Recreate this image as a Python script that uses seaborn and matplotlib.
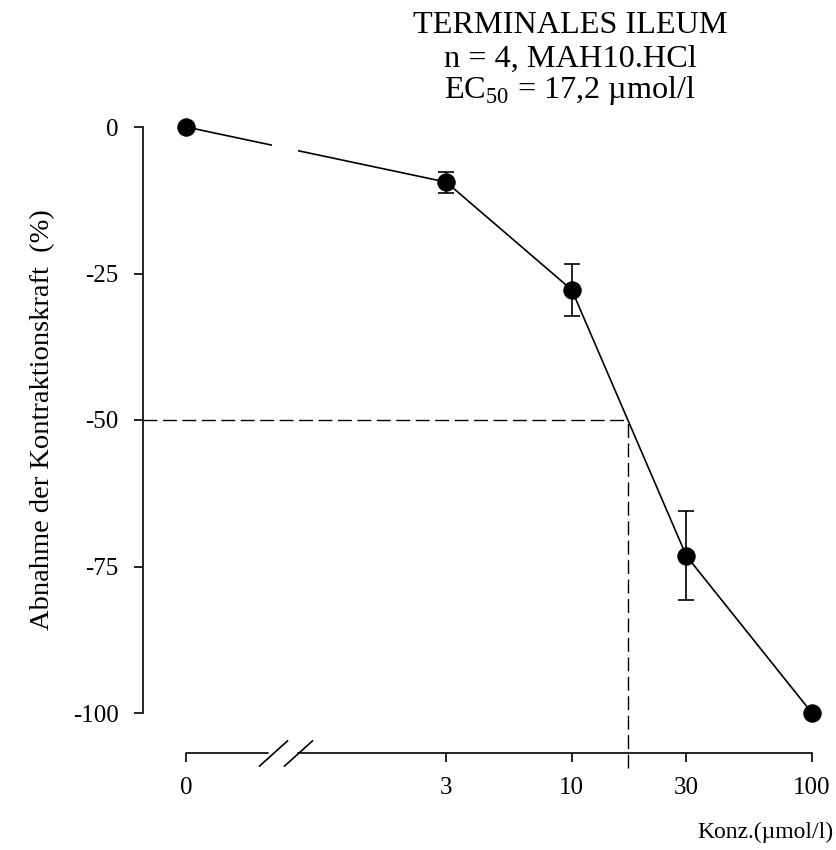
import numpy as np
import matplotlib
matplotlib.use("Agg")
import matplotlib.pyplot as plt
from matplotlib.ticker import NullLocator
from matplotlib.transforms import ScaledTranslation
import seaborn as sns

# Konzentration (µmol/l) und Abnahme der Kontraktionskraft (%), n = 4
konz = [0, 3, 10, 30, 100]
abnahme = [0.0, -9.4, -27.8, -73.2, -100.0]
fehler = [0.0, 1.8, 4.4, 7.6, 0.0]
ec50 = 17.2

x_labels = ["0", "3", "10", "30", "100"]
y_ticks = [0, -25, -50, -75, -100]

# "0" liegt auf der log-Achse links vom Achsenbruch
NULL_POS = 0.248
X_MIN = 0.164
BRUCH = (0.565, 0.725)      # Luecke in Kurve und Achse
SCHRAEG = [0.568, 0.722]    # Mitte der beiden Bruchstriche
LW = 1.2

pos = np.array([NULL_POS if k == 0 else k for k in konz], dtype=float)
abnahme = np.array(abnahme)
fehler = np.array(fehler)

sns.set_style("ticks")
plt.rcParams["font.family"] = ["Liberation Serif", "DejaVu Serif"]
plt.rcParams["mathtext.fontset"] = "custom"
plt.rcParams["mathtext.rm"] = "Liberation Serif"
plt.rcParams["axes.unicode_minus"] = False
plt.rcParams["text.color"] = "black"
plt.rcParams["axes.labelcolor"] = "black"
plt.rcParams["xtick.color"] = "black"
plt.rcParams["ytick.color"] = "black"

fig = plt.figure(figsize=(8.37, 8.5), dpi=100)
ax = fig.add_axes([143 / 837, 137 / 850, 669 / 837, 586 / 850])
ax.set_xscale("log")
ax.set_xlim(X_MIN, 100)
ax.set_ylim(-100, 0)

# Kurve mit Messpunkten
sns.lineplot(x=pos, y=abnahme, ax=ax, color="black", linewidth=LW,
             marker="o", markersize=12.5, markerfacecolor="black",
             markeredgecolor="black", clip_on=False, zorder=3)

# Fehlerbalken
m = fehler > 0
ax.errorbar(pos[m], abnahme[m], yerr=fehler[m], fmt="none", ecolor="black",
            elinewidth=LW, capsize=6, capthick=LW, zorder=2)

# Luecke in der Kurve beim Achsenbruch
ax.axvspan(BRUCH[0], BRUCH[1], ymin=0.88, ymax=1.0, color="white",
           lw=0, zorder=3.5)

# EC50 Hilfslinien
ax.hlines(-50, X_MIN, ec50, colors="black", linestyles=(0, (10, 4)),
          linewidth=1.0, zorder=1)
ax.vlines(ec50, -109.4, -50, colors="black", linestyles=(0, (10, 4)),
          linewidth=1.0, zorder=1, clip_on=False)

# Achsen
ax.spines[["top", "right"]].set_visible(False)
ax.spines["bottom"].set_position(("outward", 28.8))
ax.spines["bottom"].set_bounds(BRUCH[1], 100)
for s in ["left", "bottom"]:
    ax.spines[s].set_linewidth(LW)
    ax.spines[s].set_color("black")

# linker Teil der x-Achse und Bruchstriche
achse = ax.get_xaxis_transform() + ScaledTranslation(0, -0.4, fig.dpi_scale_trans)
ax.plot([NULL_POS, BRUCH[0] * 0.963], [0, 0], color="black", linewidth=LW,
        transform=achse, clip_on=False)
ax.plot(SCHRAEG, [0, 0], linestyle="none", marker=[(-1, -0.9), (1, 0.9)],
        markersize=21, markerfacecolor="none", markeredgecolor="black",
        markeredgewidth=LW, transform=achse, clip_on=False)

ax.set_xticks(pos)
ax.set_xticklabels(x_labels)
ax.xaxis.set_minor_locator(NullLocator())
ax.set_yticks(y_ticks)
ax.set_yticklabels([str(v) for v in y_ticks])
ax.tick_params(axis="both", direction="out", length=6.5, width=LW,
               labelsize=18)
ax.tick_params(axis="y", pad=11)
ax.tick_params(axis="x", pad=11)

ax.set_xlabel("Konz.(µmol/l)", fontsize=17)
ax.xaxis.set_label_coords(1.032, -0.186)
ax.xaxis.label.set_ha("right")
ax.set_ylabel("Abnahme der Kontraktionskraft  (%)", fontsize=20.5)
ax.yaxis.set_label_coords(-0.15, 0.5)
ax.yaxis.label.set_va("center")

# Titel
fig.text(0.681, 1 - 33 / 850, "TERMINALES ILEUM", ha="center", va="baseline", fontsize=23.2)
fig.text(0.681, 1 - 67 / 850, "n = 4, MAH10.HCl", ha="center", va="baseline", fontsize=23.2)
fig.text(0.681, 1 - 98 / 850, r"EC$_{50}$ = 17,2 µmol/l", ha="center", va="baseline", fontsize=23.2)

fig.savefig("out.png", dpi=100)
